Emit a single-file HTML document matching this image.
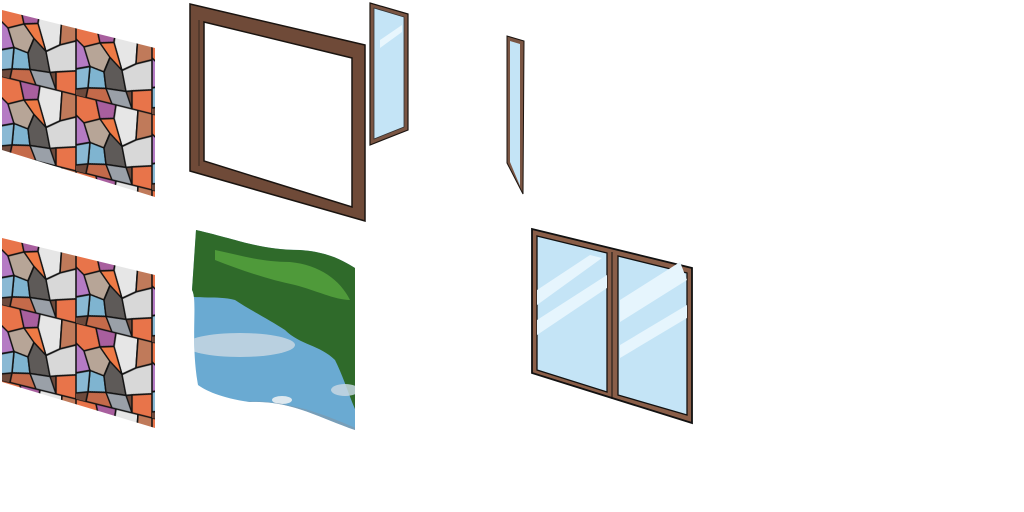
<!DOCTYPE html>
<html><head><style>html,body{margin:0;padding:0;background:#fff;width:1024px;height:512px;overflow:hidden}</style></head>
<body>
<svg width="1024" height="512" viewBox="0 0 1024 512" xmlns="http://www.w3.org/2000/svg">
<defs>
<pattern id="rocks" width="76" height="76" patternUnits="userSpaceOnUse" patternTransform="skewY(14)">
<rect width="76" height="76" fill="#6e4a3c"/>
<g stroke="#111" stroke-width="1.5">
<polygon points="0,0 20,0 24,18 8,26 0,20" fill="#e8744a"/>
<polygon points="20,0 40,0 38,14 24,18" fill="#a85f9e"/>
<polygon points="40,0 62,0 60,30 46,40 38,14" fill="#e6e6e6"/>
<polygon points="62,0 76,0 76,22 60,30" fill="#c07a5a"/>
<polygon points="0,20 8,26 14,44 0,50" fill="#b57bc4"/>
<polygon points="8,26 24,18 34,30 28,46 14,44" fill="#b7a597"/>
<polygon points="24,18 38,14 46,40 34,30" fill="#ee7a45"/>
<polygon points="14,44 28,46 30,62 12,66" fill="#7fb4d0"/>
<polygon points="28,46 34,30 46,40 50,60 30,62" fill="#5e5a58"/>
<polygon points="46,40 60,30 76,22 76,52 56,58 50,60" fill="#d8d8d8"/>
<polygon points="0,50 14,44 12,66 0,70" fill="#8ab9d4"/>
<polygon points="12,66 30,62 36,76 10,76" fill="#c46a4a"/>
<polygon points="30,62 50,60 56,76 36,76" fill="#9aa0a8"/>
<polygon points="56,58 76,52 76,76 56,76" fill="#e8744a"/>
</g>
</pattern>
<clipPath id="skyclip">
<path d="M196,230 C240,240 260,250 300,250 C330,252 345,262 355,268 L355,430 C320,418 290,400 250,402 C220,398 205,390 198,385 C190,340 198,300 192,290 Z"/>
</clipPath>
</defs>

<polygon points="2,10 155,48 155,197 2,150" fill="url(#rocks)"/>
<polygon points="2,238 155,275 155,428 2,382" fill="url(#rocks)"/>

<polygon points="190,4 365,45 365,221 190,171" fill="#6f4a38" stroke="#1a1410" stroke-width="1.5"/>
<polygon points="204,22 352,58 352,207 204,161" fill="#fff" stroke="#1a1410" stroke-width="1.5"/>
<line x1="199" y1="20" x2="199" y2="166" stroke="#3a2a20" stroke-width="1"/>

<polygon points="370,3 408,14 408,130 370,145" fill="#7a5543" stroke="#1a1410" stroke-width="1.2"/>
<polygon points="374,8 404,17 404,127 374,139" fill="#c4e4f6" stroke="#333" stroke-width="0.8"/>
<polygon points="380,40 402,25 402,32 380,48" fill="#e8f6fd"/>

<polygon points="507,36 524,41 523,194 507,163" fill="#7a5543" stroke="#1a1410" stroke-width="1"/>
<polygon points="510,41 520,44 520,186 510,162" fill="#c4e4f6"/>

<g clip-path="url(#skyclip)">
<rect x="185" y="225" width="175" height="210" fill="#6aaad2"/>
<path d="M185,225 L360,225 L360,420 C350,400 345,380 335,360 C320,345 300,345 285,330 C270,320 250,310 235,300 C215,295 200,300 185,295 Z" fill="#2f6a2a"/>
<path d="M215,250 C240,255 260,262 290,262 C320,265 340,280 350,300 C335,300 315,290 295,285 C270,280 240,270 215,260 Z" fill="#4f9a3a"/>
<ellipse cx="240" cy="345" rx="55" ry="12" fill="#c7d7e3" opacity="0.85"/>
<ellipse cx="345" cy="390" rx="14" ry="6" fill="#c7d7e3" opacity="0.85"/>
<ellipse cx="282" cy="400" rx="10" ry="4" fill="#dde8ef"/>
<path d="M240,402 C280,398 320,412 360,430 L360,440 L200,440 Z" fill="#8296a6" opacity="0.6"/>
</g>

<polygon points="532,229 692,268 692,423 532,373" fill="#8a5e48" stroke="#111" stroke-width="1.8"/>
<polygon points="537,236 607,253 607,392 537,370" fill="#c4e4f6" stroke="#111" stroke-width="1.3"/>
<polygon points="618,256 687,273 687,415 618,395" fill="#c4e4f6" stroke="#111" stroke-width="1.3"/>
<line x1="612" y1="252" x2="612" y2="399" stroke="#111" stroke-width="1"/>
<polygon points="537,290 590,255 602,258 537,305" fill="#e6f5fd"/>
<polygon points="537,320 607,275 607,288 537,335" fill="#e6f5fd"/>
<polygon points="620,300 680,262 687,280 620,322" fill="#e6f5fd"/>
<polygon points="620,345 687,305 687,318 620,358" fill="#e6f5fd"/>
</svg>
</body></html>
